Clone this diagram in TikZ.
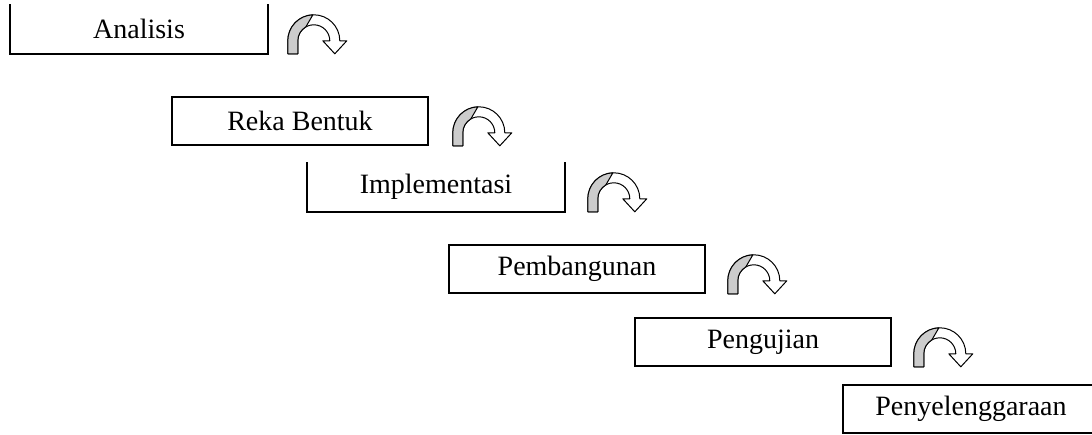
\documentclass[tikz,border=0pt]{standalone}
\usepackage{fontspec}
\setmainfont{Liberation Serif}
\tikzset{
  kotak/.style={draw, line width=1.6pt, minimum width=256pt, minimum height=48pt, inner sep=0pt, font=\fontsize{28}{31}\selectfont},
  kotakbuka/.style={kotak, draw=none},
  garis/.style={line width=1.6pt},
  pics/putar/.style={code={
    \begin{scope}[y=1pt, line width=1pt, line join=round]
      \filldraw[fill=white] (0,0) -- (0,13) arc[start angle=180, end angle=0, radius=26] -- (59,13) -- (47,0) -- (35,13) -- (42,13) arc[start angle=0, end angle=180, radius=16] -- (10,0) -- cycle;
      \filldraw[fill=gray!40] (0,0) -- (0,13) arc[start angle=180, end angle=92, radius=26] -- (18,26.86) arc[start angle=120, end angle=180, radius=16] -- (10,0) -- cycle;
    \end{scope}
  }}
}
\begin{document}
\begin{tikzpicture}[x=1pt, y=-1pt]
      \clip (0,0) rectangle (1092,435);
      \fill[white] (0,0) rectangle (1092,435);
      %kotak
      \node[kotakbuka] (analisis) at (139,29) {Analisis};
      \draw[garis] (analisis.north west) -- (analisis.south west) -- (analisis.south east) -- (analisis.north east);
      \node[kotak] (reka) at (300,121) {Reka Bentuk};
      \node[kotakbuka] (implementasi) at (436,187) {Implementasi};
      \draw[garis] (implementasi.north west) -- (implementasi.south west) -- (implementasi.south east) -- (implementasi.north east);
      \node[kotak] (pembangunan) at (577,269) {Pembangunan};
      \node[kotak] (pengujian) at (763,342) {Pengujian};
      \node[kotak] (penyelenggaraan) at (971,409) {Penyelenggaraan};
      %anak panah
      \pic[xshift=20pt] at (analisis.south east) {putar};
      \pic[xshift=24pt] at (reka.south east) {putar};
      \pic[xshift=23pt] at (implementasi.south east) {putar};
      \pic[xshift=22pt] at (pembangunan.south east) {putar};
      \pic[xshift=22pt] at (pengujian.south east) {putar};
\end{tikzpicture}
\end{document}
